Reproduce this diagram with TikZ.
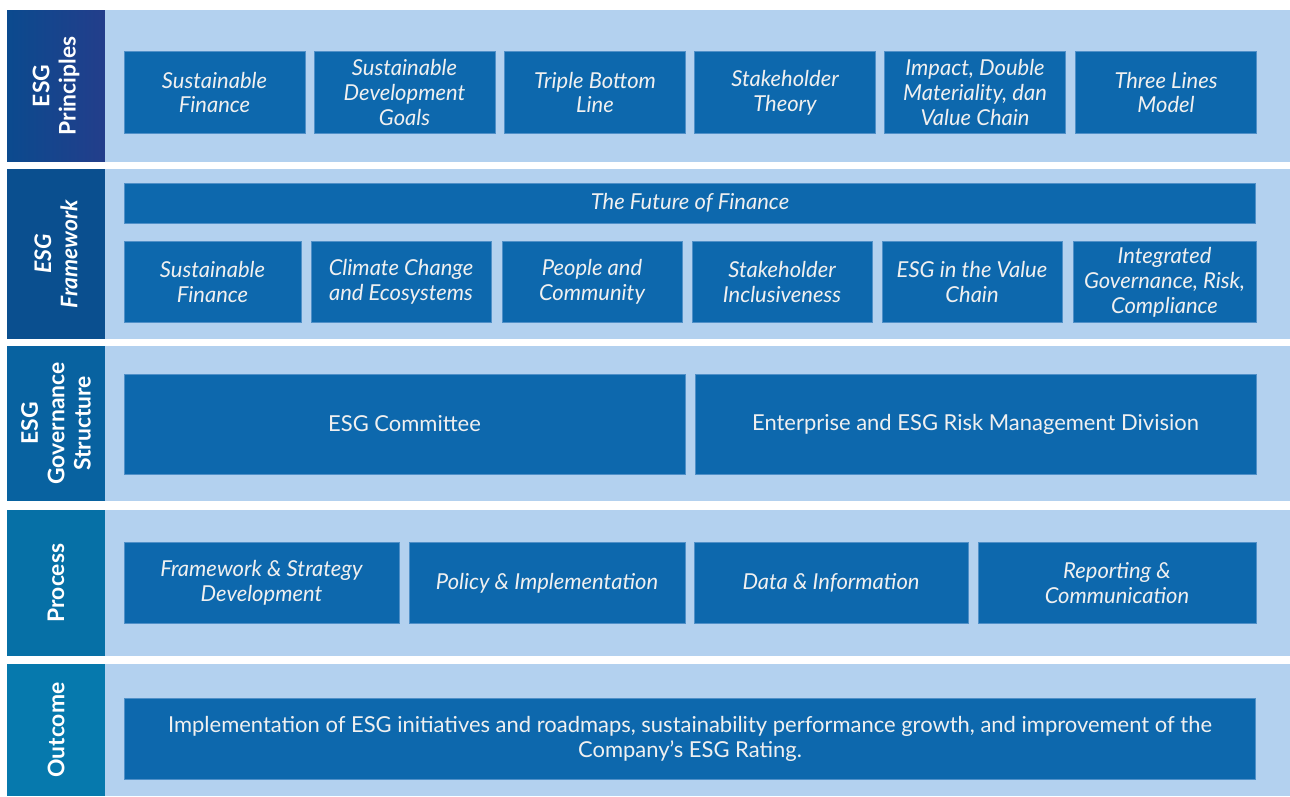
\documentclass[tikz,border=0pt]{standalone}
\usepackage{fontspec}
\setmainfont{Lato}
\definecolor{panelblue}{HTML}{B3D1EF}
\definecolor{cellblue}{HTML}{0D68AD}
\definecolor{cellline}{HTML}{5090C8}
\definecolor{sidetop}{HTML}{233E8B}
\definecolor{sidebot}{HTML}{0B4A8E}
\definecolor{sideb}{HTML}{0A4F8F}
\definecolor{sidec}{HTML}{0862A0}
\definecolor{sided}{HTML}{0670A6}
\definecolor{sidee}{HTML}{0679AD}
\begin{document}
\begin{tikzpicture}[x=0.02cm, y=-0.02cm,
  panel/.style={fill=panelblue, inner sep=0pt, outer sep=0pt, minimum width=23.7cm},
  side/.style={rotate=90, inner sep=0pt, outer sep=0pt, minimum height=1.96cm, text=white, align=center,
    font=\bfseries\fontsize{13}{15}\selectfont},
  cell/.style={fill=cellblue, draw=cellline, line width=0.5pt, inner sep=0pt, minimum width=#1,
    minimum height=1.63cm, text=white!94!black, align=center, font=\itshape\fontsize{12.5}{14.2}\selectfont},
  cell/.default=3.62cm,
  plain/.style={font=\fontsize{12.5}{14.2}\selectfont}]
  \fill[white] (0,0) rectangle (1290,796);
  \useasboundingbox (0,0) rectangle (1290,796);
  % bands
  \node[panel, minimum height=3.04cm] (r1) at (697.5,86) {};
  \node[panel, minimum height=3.4cm] (r2) at (697.5,254) {};
  \node[panel, minimum height=3.1cm] (r3) at (697.5,423.5) {};
  \node[panel, minimum height=2.92cm] (r4) at (697.5,583) {};
  \node[panel, minimum height=2.64cm] (r5) at (697.5,730) {};
  \node[side, minimum width=3.04cm, right color=sidetop, left color=sidebot] (l1) at (56,86) {ESG\\Principles};
  \node[side, minimum width=3.4cm, fill=sideb, font=\bfseries\itshape\fontsize{13}{15}\selectfont] (l2) at (56,254) {ESG\\Framework};
  \node[side, minimum width=3.1cm, fill=sidec] (l3) at (56,423.5) {ESG\\Governance\\Structure};
  \node[side, minimum width=2.92cm, fill=sided] (l4) at (56,583) {Process};
  \node[side, minimum width=2.64cm, fill=sidee] (l5) at (56,730) {Outcome};
  % principles
  \node[cell] (p1) at (214.5,92.5) {Sustainable\\Finance};
  \node[cell] (p2) at (404.5,92.5) {Sustainable\\Development\\Goals};
  \node[cell] (p3) at (595,92.5) {Triple Bottom\\Line};
  \node[cell] (p4) at (785,92.5) {Stakeholder\\Theory};
  \node[cell] (p5) at (975,92.5) {Impact, Double\\Materiality, dan\\Value Chain};
  \node[cell] (p6) at (1166,92.5) {Three Lines\\Model};
  % framework
  \node[cell=22.64cm, minimum height=0.8cm] (f0) at (690,203) {The Future of Finance};
  \node[cell=3.54cm] (f1) at (212.5,282) {Sustainable\\Finance};
  \node[cell=3.6cm] (f2) at (401,282) {Climate Change\\and Ecosystems};
  \node[cell=3.6cm] (f3) at (592,282) {People and\\Community};
  \node[cell=3.6cm] (f4) at (782,282) {Stakeholder\\Inclusiveness};
  \node[cell=3.6cm] (f5) at (972,282) {ESG in the Value\\Chain};
  \node[cell=3.66cm] (f6) at (1164.5,282) {Integrated\\Governance, Risk,\\Compliance};
  % governance
  \node[cell=11.22cm, minimum height=2cm, plain] (g1) at (404.5,424) {ESG Committee};
  \node[cell=11.22cm, minimum height=2cm, plain] (g2) at (975.5,424) {Enterprise and ESG Risk Management Division};
  % process
  \node[cell=5.5cm] (s1) at (261.5,583) {Framework \& Strategy\\Development};
  \node[cell=5.52cm] (s2) at (547,583) {Policy \& Implementation};
  \node[cell=5.48cm] (s3) at (831,583) {Data \& Information};
  \node[cell=5.56cm] (s4) at (1117,583) {Reporting \&\\Communication};
  % outcome
  \node[cell=22.64cm, plain] (o1) at (690,739) {Implementation of ESG initiatives and roadmaps, sustainability performance growth, and improvement of the\\Company's ESG Rating.};
\end{tikzpicture}
\end{document}
